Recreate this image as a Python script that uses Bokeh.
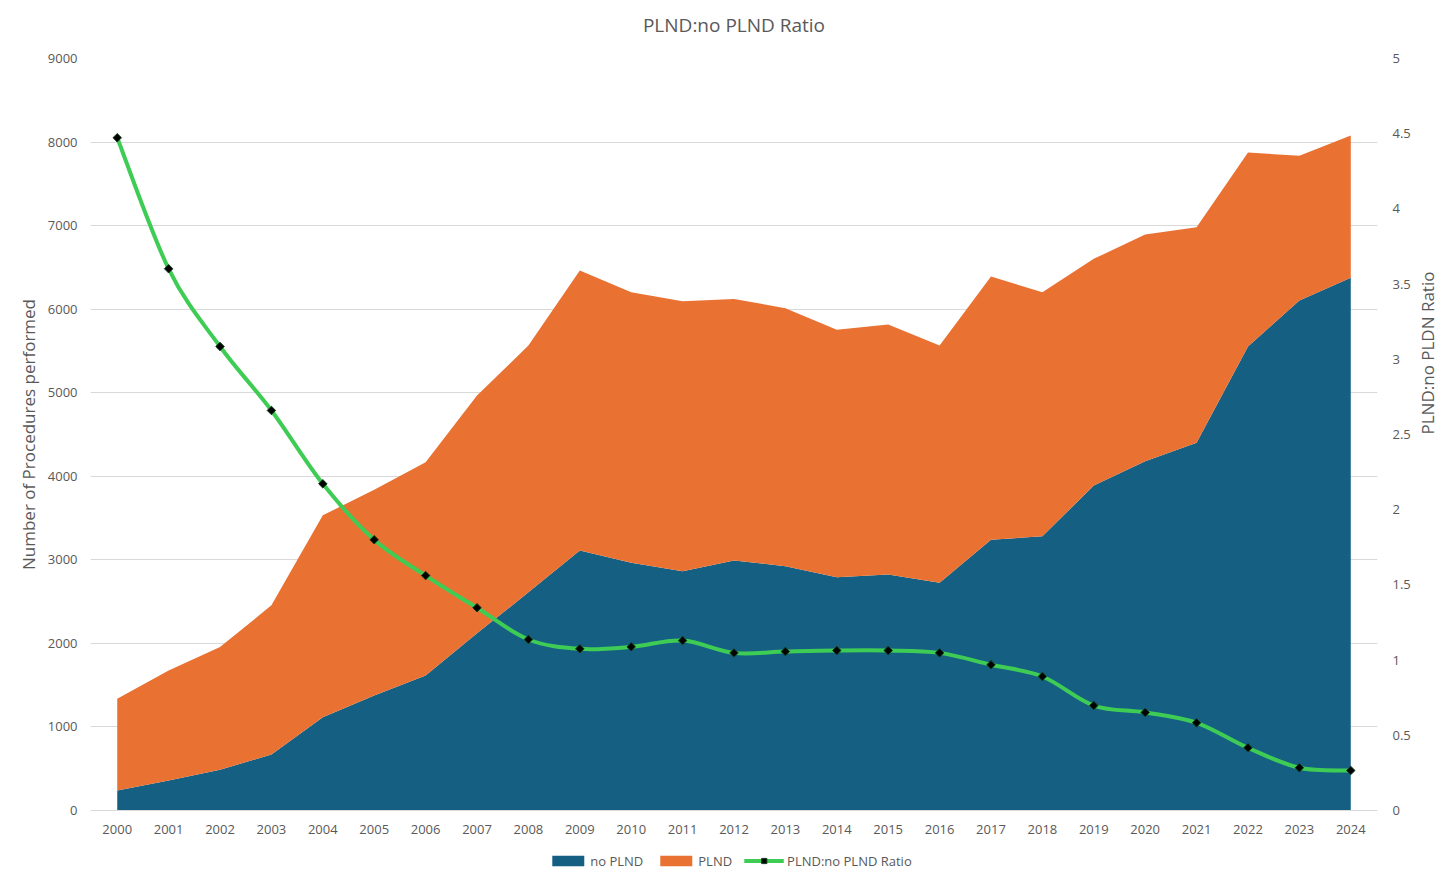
import numpy as np
from bokeh.plotting import figure
from bokeh.layouts import column
from bokeh.models import (ColumnDataSource, Range1d, LinearAxis, FixedTicker,
                          NumeralTickFormatter, Legend, LegendItem)
from bokeh.embed import file_html
from bokeh.resources import INLINE

years = list(range(2000, 2025))
no_plnd = [240, 359, 487, 671, 1117, 1377, 1617, 2120, 2611, 3112, 2964, 2864, 2992,
           2924, 2792, 2824, 2725, 3240, 3283, 3889, 4180, 4400, 5553, 6103, 6375]
plnd = [1098, 1318, 1469, 1784, 2416, 2461, 2551, 2846, 2954, 3350, 3239, 3231, 3131,
        3087, 2961, 2992, 2840, 3151, 2920, 2713, 2713, 2581, 2322, 1732, 1703]
ratio = [4.473, 3.602, 3.085, 2.660, 2.172, 1.800, 1.562, 1.348, 1.137, 1.075, 1.088,
         1.130, 1.048, 1.057, 1.064, 1.064, 1.048, 0.969, 0.891, 0.698, 0.652, 0.583,
         0.417, 0.284, 0.266]
left_ticks = [0, 1000, 2000, 3000, 4000, 5000, 6000, 7000, 8000, 9000]
right_ticks = [0, 0.5, 1, 1.5, 2, 2.5, 3, 3.5, 4, 4.5, 5]
title_text = "PLND:no PLND Ratio"

FONT = "Open Sans"
TXT = "#595959"
BLUE = "#156082"
ORANGE = "#E97132"
GREEN = "#3FCC55"
GRID = "#D9D9D9"

p = figure(frame_width=1287, frame_height=752,
           x_range=Range1d(1999.48, 2024.52), y_range=Range1d(0, 9000),
           output_backend="svg", toolbar_location=None,
           min_border_left=90, min_border_right=68, min_border_top=58, min_border_bottom=34)
p.extra_y_ranges = {"ratio": Range1d(0, 5)}
p.outline_line_color = None
p.background_fill_color = "white"
p.border_fill_color = "white"

src = ColumnDataSource(dict(year=years, no_plnd=no_plnd, plnd=plnd))
areas = p.varea_stack(["no_plnd", "plnd"], x="year", source=src,
                      fill_color=[BLUE, ORANGE])

# smoothed ratio line (Bezier segments with Catmull-Rom style control points)
xs = np.array(years, dtype=float)
ys = np.array(ratio, dtype=float)
n = len(xs)
x0 = []; y0 = []; x1 = []; y1 = []; cx0 = []; cy0 = []; cx1 = []; cy1 = []
for i in range(n - 1):
    xm = xs[i - 1] if i > 0 else xs[i]
    ym = ys[i - 1] if i > 0 else ys[i]
    xq = xs[i + 2] if i + 2 < n else xs[i + 1]
    yq = ys[i + 2] if i + 2 < n else ys[i + 1]
    x0.append(xs[i]); y0.append(ys[i]); x1.append(xs[i + 1]); y1.append(ys[i + 1])
    cx0.append(xs[i] + (xs[i + 1] - xm) / 6.0)
    cy0.append(ys[i] + (ys[i + 1] - ym) / 6.0)
    cx1.append(xs[i + 1] - (xq - xs[i]) / 6.0)
    cy1.append(ys[i + 1] - (yq - ys[i]) / 6.0)
bsrc = ColumnDataSource(dict(x0=x0, y0=y0, x1=x1, y1=y1, cx0=cx0, cy0=cy0, cx1=cx1, cy1=cy1))
bez = p.bezier(x0="x0", y0="y0", x1="x1", y1="y1", cx0="cx0", cy0="cy0", cx1="cx1", cy1="cy1",
               source=bsrc, line_color=GREEN, line_width=4, line_cap="round",
               y_range_name="ratio")
sc = p.scatter(x=years, y=ratio, marker="square", angle=np.pi / 4, size=6,
               fill_color="black", line_color="#123d18", line_width=1,
               y_range_name="ratio")

# bottom (year) axis
xa = p.below[0]
xa.ticker = FixedTicker(ticks=years)
xa.major_tick_line_color = None
xa.minor_tick_line_color = None
xa.major_tick_out = 0
xa.major_tick_in = 0
xa.minor_tick_out = 0
xa.axis_line_color = GRID
xa.major_label_standoff = 14
xa.major_label_text_font = FONT
xa.major_label_text_font_size = "13px"
xa.major_label_text_color = TXT

# chart title: label of a tick-less axis above the plot area
ta = LinearAxis(ticker=FixedTicker(ticks=[]), axis_label=title_text)
ta.axis_line_color = None
ta.major_tick_line_color = None
ta.minor_tick_line_color = None
ta.major_tick_out = 0
ta.major_label_standoff = 0
ta.axis_label_standoff = 21
ta.axis_label_text_font = FONT
ta.axis_label_text_font_size = "19px"
ta.axis_label_text_font_style = "normal"
ta.axis_label_text_color = TXT
p.add_layout(ta, "above")

ly = p.left[0]
ly.ticker = FixedTicker(ticks=left_ticks)
ly.axis_line_color = None
ly.major_tick_line_color = None
ly.minor_tick_line_color = None
ly.major_label_standoff = 7
ly.major_label_text_font = FONT
ly.major_label_text_font_size = "13px"
ly.major_label_text_color = TXT
ly.axis_label = "Number of Procedures performed"
ly.axis_label_text_font = FONT
ly.axis_label_text_font_size = "17px"
ly.axis_label_text_font_style = "normal"
ly.axis_label_text_color = TXT
ly.axis_label_standoff = 5

ry = LinearAxis(y_range_name="ratio", ticker=FixedTicker(ticks=right_ticks),
                formatter=NumeralTickFormatter(format="0.[0]"))
ry.axis_line_color = None
ry.major_tick_line_color = None
ry.minor_tick_line_color = None
ry.major_label_standoff = 9
ry.major_label_text_font = FONT
ry.major_label_text_font_size = "13px"
ry.major_label_text_color = TXT
ry.axis_label = "PLND:no PLDN Ratio"
ry.axis_label_text_font = FONT
ry.axis_label_text_font_size = "17px"
ry.axis_label_text_font_style = "normal"
ry.axis_label_text_color = TXT
ry.axis_label_standoff = 14
try:
    ry.axis_label_orientation = np.pi / 2
except Exception:
    pass
p.add_layout(ry, "right")

p.xgrid.grid_line_color = None
p.ygrid.grid_line_color = GRID
p.ygrid.ticker = FixedTicker(ticks=left_ticks)

# legend strip under the chart (its glyphs use the same data, kept out of view)
lp = figure(width=1445, height=33, x_range=Range1d(0, 1), y_range=Range1d(0, 1),
            output_backend="svg", toolbar_location=None,
            x_axis_location=None, y_axis_location=None,
            min_border_left=15, min_border_right=0, min_border_top=0, min_border_bottom=0)
lp.outline_line_color = None
lp.grid.grid_line_color = None
lp.background_fill_color = "white"
lp.border_fill_color = "white"
lareas = lp.varea_stack(["no_plnd", "plnd"], x="year", source=src,
                        fill_color=[BLUE, ORANGE])
lline = lp.line(x=years, y=ratio, line_color=GREEN, line_width=4)
lmark = lp.scatter(x=years, y=ratio, marker="square", size=6,
                   fill_color="black", line_color="#123d18", line_width=1)

legend = Legend(items=[LegendItem(label="no PLND", renderers=[lareas[0]]),
                       LegendItem(label="PLND", renderers=[lareas[1]]),
                       LegendItem(label="PLND:no PLND Ratio", renderers=[lline, lmark])],
                orientation="horizontal", location="center")
legend.border_line_color = None
legend.background_fill_alpha = 0
legend.label_text_font = FONT
legend.label_text_font_size = "13px"
legend.label_text_color = TXT
legend.glyph_width = 40
legend.glyph_height = 13
legend.label_standoff = 3
legend.spacing = 12
legend.padding = 0
legend.margin = 0
lp.add_layout(legend)

page = column(p, lp, spacing=0)
open("out.html", "w").write(file_html(page, INLINE))
